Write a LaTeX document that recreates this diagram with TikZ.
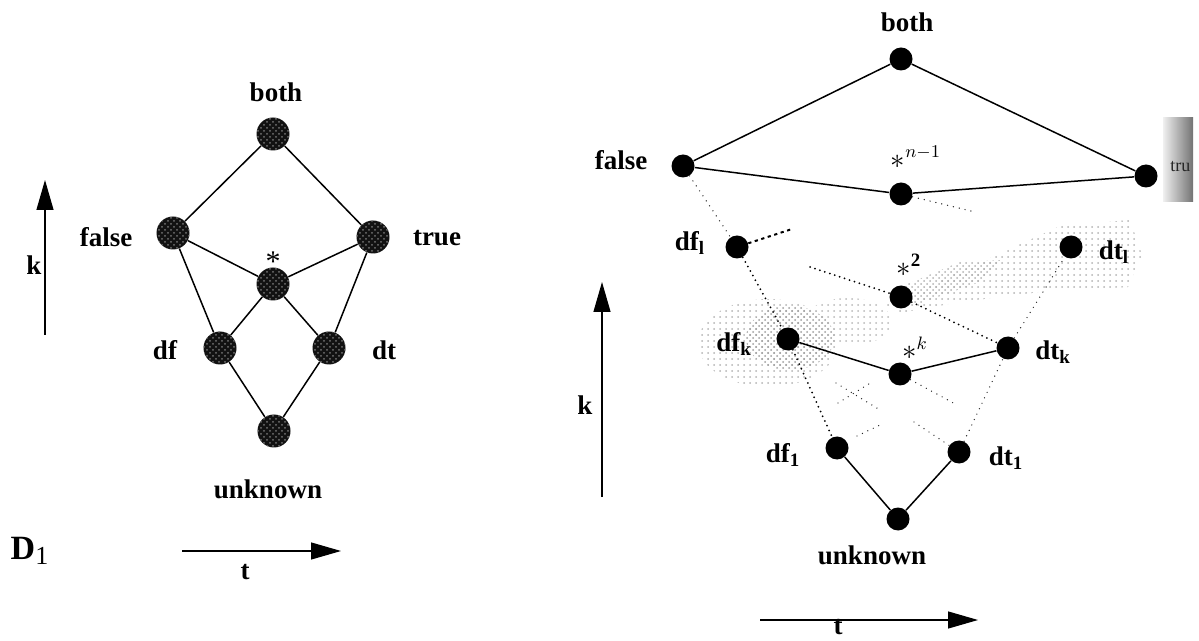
\documentclass[tikz,border=0pt]{standalone}
\usepackage{fontspec}
\setmainfont{Liberation Serif}
\usetikzlibrary{arrows.meta,patterns}
\begin{document}
\begin{tikzpicture}[x=0.5pt,y=-0.5pt,
  lbl/.style={font=\fontsize{13.5}{15}\selectfont\bfseries, inner sep=0pt},
  starlbl/.style={font=\fontsize{13.5}{15}\selectfont, inner sep=0pt},
  bignode/.style={circle, inner sep=0pt, minimum size=16.5pt, fill=black!93,
    postaction={pattern=crosshatch dots, pattern color=black!55}},
  smallnode/.style={circle, inner sep=0pt, minimum size=11.5pt, fill=black},
  solidln/.style={line width=0.75pt},
  ax/.style={line width=0.6pt, -{Triangle[length=15pt,width=8.5pt]}},
  ldot/.style={line width=0.7pt, line cap=round, dash pattern=on 0pt off 3pt, black!85},
  hdot/.style={line width=1pt, line cap=round, dash pattern=on 0pt off 2.6pt},
  dstub/.style={line width=1pt, dash pattern=on 1.6pt off 1.8pt}]
\useasboundingbox (0,0) rectangle (1199,641);

% ================= Left diagram D1 =================
\node[bignode] (Lboth) at (273,134) {};
\node[bignode] (Lfalse) at (173,233) {};
\node[bignode] (Ltrue) at (373,237) {};
\node[bignode] (Lstar) at (273,284) {};
\node[bignode] (Ldf) at (220,348) {};
\node[bignode] (Ldt) at (329,348) {};
\node[bignode] (Lunk) at (274,431) {};

\node[lbl] (LbothL) at (276,92) {both};
\node[lbl] (LfalseL) at (106,237) {false};
\node[lbl] (LtrueL) at (437,238) {true};
\node[starlbl, font=\fontsize{15}{15}\selectfont] (LstarL) at (273,262) {*};
\node[lbl] (LdfL) at (165,350) {df};
\node[lbl] (LdtL) at (384,350) {dt};
\node[lbl] (LunkL) at (268,489) {unknown};
\node[lbl] (LkL) at (34,265) {k};
\node[lbl] (LtL) at (245,572) {t};
\node[font=\fontsize{17}{19}\selectfont\bfseries, inner sep=0pt] (D1) at (30,551) {D\textsubscript{\normalfont\fontsize{13}{13}\selectfont 1}};

\draw[solidln] (Lboth) -- (Lfalse);
\draw[solidln] (Lboth) -- (Ltrue);
\draw[solidln] (Lfalse) -- (Lstar);
\draw[solidln] (Ltrue) -- (Lstar);
\draw[solidln] (Lfalse) -- (Ldf);
\draw[solidln] (Ltrue) -- (Ldt);
\draw[solidln] (Lstar) -- (Ldf);
\draw[solidln] (Lstar) -- (Ldt);
\draw[solidln] (Ldf) -- (Lunk);
\draw[solidln] (Ldt) -- (Lunk);

\coordinate (Lk0) at (45,335);
\coordinate (Lk1) at (45,180);
\draw[ax] (Lk0) -- (Lk1);
\coordinate (Lt0) at (182,551);
\coordinate (Lt1) at (341,551);
\draw[ax] (Lt0) -- (Lt1);

% ================= Right diagram =================
% stippled grey clouds
\fill[pattern=dots, pattern color=black!30] (768,343) ellipse [x radius=35pt, y radius=22pt];
\fill[pattern=crosshatch dots, pattern color=black!38] (790,338) ellipse [x radius=22pt, y radius=16pt];
\fill[pattern=dots, pattern color=black!28] (848,322) ellipse [x radius=22pt, y radius=12pt];
\fill[pattern=dots, pattern color=black!30] (885,305) -- (990,258) -- (1060,226) -- (1130,220)
  -- (1142,255) -- (1128,287) -- (1040,292) -- (960,302) -- (900,313) -- cycle;
\fill[pattern=crosshatch dots, pattern color=black!30] (905,285) -- (960,262) -- (1000,260)
  -- (980,282) -- (915,305) -- cycle;

% grey box behind "tru"
\shade[left color=black!6, right color=black!55] (1163,118) rectangle (1193,202);
\node[font=\fontsize{9}{9}\selectfont, text=black!85, inner sep=0pt, anchor=west] (trueL) at (1170,167) {tru};

\node[smallnode] (both) at (901,59) {};
\node[smallnode] (false) at (683,166) {};
\node[smallnode] (true) at (1146,176) {};
\node[smallnode] (sn1) at (901,194) {};
\node[smallnode] (dfl) at (737,247) {};
\node[smallnode] (dtl) at (1071,247) {};
\node[smallnode] (s2) at (901,297) {};
\node[smallnode] (dfk) at (788,339) {};
\node[smallnode] (sk) at (900,374) {};
\node[smallnode] (dtk) at (1008,348) {};
\node[smallnode] (df1) at (837,448) {};
\node[smallnode] (dt1) at (959,452) {};
\node[smallnode] (unk) at (898,519) {};

\node[lbl] (bothL) at (907,22) {both};
\node[lbl] (falseL) at (621,160) {false};
\node[starlbl] (sn1L) at (916,157) {$\ast^{n-1}$};
\node[lbl] (dflL) at (690,243) {df\textsubscript{l}};
\node[lbl] (dtlL) at (1114,252) {dt\textsubscript{l}};
\node[starlbl] (s2L) at (909,265) {$\ast^{\mathbf{2}}$};
\node[lbl] (dfkL) at (734,344) {df\textsubscript{k}};
\node[starlbl] (skL) at (915,348) {$\ast^{k}$};
\node[lbl] (dtkL) at (1053,352) {dt\textsubscript{k}};
\node[lbl] (df1L) at (783,455) {df\textsubscript{1}};
\node[lbl] (dt1L) at (1006,458) {dt\textsubscript{1}};
\node[lbl] (unkL) at (872,555) {unknown};
\node[lbl] (kL) at (585,405) {k};
\node[lbl] (tL) at (838,627) {t};

% solid edges
\draw[solidln] (both) -- (false);
\draw[solidln] (both) -- (true);
\draw[solidln] (false) -- (sn1);
\draw[solidln] (sn1) -- (true);
\draw[solidln] (dfk) -- (sk);
\draw[solidln] (sk) -- (dtk);
\draw[solidln] (df1) -- (unk);
\draw[solidln] (unk) -- (dt1);

% dotted chains
\draw[ldot] (false) -- (dfl);
\draw[hdot] (dfl) -- (dfk);
\draw[hdot] (dfk) -- (df1);
\draw[ldot] (dt1) -- (dtk);
\draw[ldot] (dtk) -- (dtl);
\draw[hdot] (s2) -- (dtk);

\coordinate (stA) at (792,229);
\draw[dstub] (dfl) -- (stA);
\coordinate (stB) at (810,267);
\draw[hdot] (stB) -- (s2);
\coordinate (stC) at (975,212);
\draw[ldot] (sn1) -- (stC);
\coordinate (stD) at (957,405);
\draw[ldot] (sk) -- (stD);
\coordinate (stE0) at (836,383);
\coordinate (stE1) at (880,410);
\draw[ldot] (stE0) -- (stE1);
\coordinate (stF0) at (838,403);
\coordinate (stF1) at (872,382);
\draw[ldot] (stF0) -- (stF1);
\coordinate (stG0) at (857,436);
\coordinate (stG1) at (880,425);
\draw[ldot] (stG0) -- (stG1);
\coordinate (stH) at (914,422);
\draw[ldot] (stH) -- (dt1);

% axes
\coordinate (Rk0) at (602,497);
\coordinate (Rk1) at (602,282);
\draw[ax] (Rk0) -- (Rk1);
\coordinate (Rt0) at (760,620);
\coordinate (Rt1) at (978,620);
\draw[ax] (Rt0) -- (Rt1);
\end{tikzpicture}
\end{document}
